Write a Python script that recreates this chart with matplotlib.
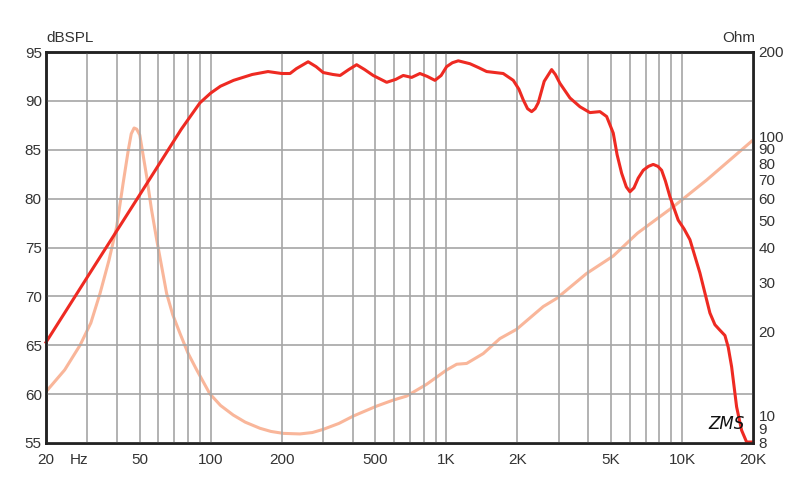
import matplotlib.pyplot as plt
from matplotlib.ticker import FixedLocator, NullLocator, NullFormatter

plt.rcParams['font.family'] = ['Liberation Sans', 'DejaVu Sans']

# SPL response (left axis, dB)
spl_freq = [20, 30, 50, 75, 90, 100, 110, 125, 150, 175, 200, 217, 231, 259, 280, 300,
            330, 354, 385, 416, 450, 489, 558, 610, 656, 712, 772, 830, 894, 950, 1002,
            1060, 1123, 1259, 1370, 1482, 1742, 1922, 2030, 2119, 2210, 2300, 2380, 2453,
            2600, 2796, 2900, 3032, 3344, 3687, 4065, 4482, 4786, 5106, 5300, 5541, 5800,
            6008, 6250, 6516, 6843, 7200, 7546, 7900, 8191, 8500, 8882, 9632, 10200, 10800,
            11906, 13128, 13788, 14400, 15202, 15700, 16230, 17040, 17892, 18786, 20000]
spl_db = [65.3, 72.0, 80.4, 87.1, 89.8, 90.8, 91.5, 92.1, 92.7, 93.0, 92.8, 92.8, 93.3,
          94.0, 93.5, 92.9, 92.7, 92.6, 93.2, 93.7, 93.2, 92.6, 91.9, 92.2, 92.6, 92.4,
          92.8, 92.5, 92.1, 92.6, 93.5, 93.9, 94.1, 93.8, 93.4, 93.0, 92.8, 92.1, 91.2,
          90.1, 89.2, 88.9, 89.2, 89.8, 92.0, 93.2, 92.7, 91.8, 90.3, 89.4, 88.8, 88.9,
          88.4, 86.7, 84.5, 82.6, 81.2, 80.7, 81.1, 82.1, 82.9, 83.3, 83.5, 83.3, 82.9,
          81.8, 80.2, 77.8, 76.9, 75.8, 72.4, 68.3, 67.1, 66.6, 66.0, 64.8, 62.8, 58.7,
          56.3, 55.1, 55.1]

# impedance (right axis, Ohm)
imp_freq = [20, 24, 27.9, 31, 33.9, 37, 39.9, 42.5, 44.7, 46, 47.3, 48.5, 50, 53.5, 56,
            59.0, 65.0, 69, 74.1, 80, 87.2, 99.1, 110, 124.6, 140, 161.8, 180, 203, 239,
            270, 300, 350, 403, 506, 595, 678, 824, 1002, 1106, 1219, 1433, 1687, 1986,
            2576, 2936, 3935, 5106, 6467, 9170, 12712, 20000]
imp_ohm = [12.2, 14.6, 17.9, 21.5, 27.4, 36.0, 47.5, 68.0, 89.3, 102.0, 107.0, 106.0,
           101.0, 71.6, 55.0, 42.6, 27.4, 23.0, 19.7, 16.8, 14.6, 12.0, 10.9, 10.07, 9.5,
           9.03, 8.8, 8.66, 8.62, 8.72, 8.95, 9.4, 9.99, 10.84, 11.39, 11.77, 12.97,
           14.59, 15.3, 15.4, 16.7, 18.9, 20.4, 24.6, 26.3, 32.3, 37.3, 45.0, 55.9, 69.7,
           96.9]

x_major = [20, 50, 100, 200, 500, 1000, 2000, 5000, 10000, 20000]
x_labels = ['20', '50', '100', '200', '500', '1K', '2K', '5K', '10K', '20K']
x_minor = [30, 40, 60, 70, 80, 90, 300, 400, 600, 700, 800, 900,
           3000, 4000, 6000, 7000, 8000, 9000]
db_ticks = [55, 60, 65, 70, 75, 80, 85, 90, 95]
ohm_ticks = [8, 9, 10, 20, 30, 40, 50, 60, 70, 80, 90, 100, 200]

txt = '#333333'
gridc = '#a6a6a6'

fig = plt.figure(figsize=(8, 4.84), dpi=100)
ax = fig.add_axes([46/800, 41/484, 707/800, 391/484])
ax2 = ax.twinx()
ax.set_zorder(ax2.get_zorder() + 1)
ax.patch.set_visible(False)

ax2.plot(imp_freq, imp_ohm, color='#f9b69a', lw=2.2, solid_joinstyle='round')
ax.plot(spl_freq, spl_db, color='#ee2a22', lw=2.2, solid_joinstyle='round', clip_on=False)

ax.set_xscale('log')
ax.set_xlim(20, 20000)
ax.set_ylim(55, 95)
ax2.set_yscale('log')
ax2.set_ylim(8, 200)

ax.xaxis.set_major_locator(FixedLocator(x_major))
ax.set_xticklabels(x_labels)
ax.xaxis.set_minor_locator(FixedLocator(x_minor))
ax.xaxis.set_minor_formatter(NullFormatter())
ax.set_yticks(db_ticks)

ax2.yaxis.set_major_locator(FixedLocator(ohm_ticks))
ax2.yaxis.set_minor_locator(NullLocator())
ax2.set_yticklabels([str(t) for t in ohm_ticks])

ax.grid(True, which='both', color=gridc, lw=1.2)
ax.tick_params(which='both', length=0, labelsize=11, labelcolor=txt)
ax.tick_params(axis='x', pad=7)
ax.tick_params(axis='y', pad=3)
ax2.tick_params(which='both', length=0, labelsize=11, labelcolor=txt, pad=4)

for a in (ax, ax2):
    for s in a.spines.values():
        s.set_color('#222222')
        s.set_linewidth(1.8)

ax.text(0, 1.018, 'dBSPL', transform=ax.transAxes, ha='left', va='bottom',
        fontsize=11, color=txt)
ax.text(1.003, 1.018, 'Ohm', transform=ax.transAxes, ha='right', va='bottom',
        fontsize=11, color=txt)
ax.text(0.034, -0.0245, 'Hz', transform=ax.transAxes, ha='left', va='top',
        fontsize=11, color=txt)
ax.text(0.988, 0.025, 'ZMS', transform=ax.transAxes, ha='right', va='bottom',
        fontsize=12, style='italic', color='#111111', family='DejaVu Sans')

fig.savefig('out.png', dpi=100)
